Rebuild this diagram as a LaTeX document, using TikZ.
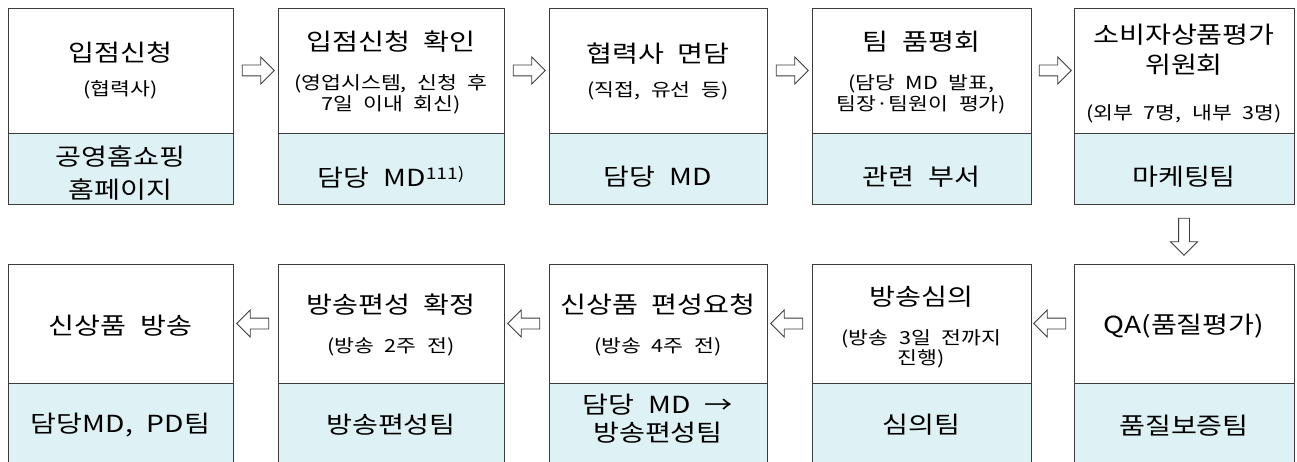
\documentclass[tikz,border=0pt]{standalone}
\usepackage{fontspec}
\setmainfont{Noto Sans CJK KR}[WordSpace=2.2, FakeStretch=1.2]
\usetikzlibrary{shapes.arrows,calc}
\definecolor{cellfill}{HTML}{DEF1F4}
\definecolor{edge}{HTML}{3C3C3C}
\begin{document}
\begin{tikzpicture}[x=1pt,y=-1pt,
  part/.style={draw=edge, line width=0.9pt, inner sep=0pt},
  toppart/.style={part, fill=white},
  botpart/.style={part, fill=cellfill},
  ttl/.style={font=\fontsize{23.5}{28}\selectfont, inner sep=0pt},
  sub/.style={font=\fontsize{18}{21}\selectfont, inner sep=0pt},
  barrow/.style={single arrow, draw=edge, fill=white, line width=0.9pt,
    minimum height=32pt, single arrow head extend=8pt, inner sep=5pt}]
\path[use as bounding box] (0,0) rectangle (1297,462);
\clip (0,0) rectangle (1297,462);
% ---- top row ----
\node[toppart, minimum width=225pt, minimum height=125pt] (t1) at (120.5,70.5) {};
\node[toppart, minimum width=226pt, minimum height=125pt] (t2) at (391,70.5) {};
\node[toppart, minimum width=218pt, minimum height=125pt] (t3) at (658,70.5) {};
\node[toppart, minimum width=219pt, minimum height=125pt] (t4) at (921.5,70.5) {};
\node[toppart, minimum width=220pt, minimum height=125pt] (t5) at (1184,70.5) {};
\node[botpart, minimum width=225pt, minimum height=71pt] (b1) at (120.5,168.5) {};
\node[botpart, minimum width=226pt, minimum height=71pt] (b2) at (391,168.5) {};
\node[botpart, minimum width=218pt, minimum height=71pt] (b3) at (658,168.5) {};
\node[botpart, minimum width=219pt, minimum height=71pt] (b4) at (921.5,168.5) {};
\node[botpart, minimum width=220pt, minimum height=71pt] (b5) at (1184,168.5) {};
% ---- bottom row ----
\node[toppart, minimum width=225pt, minimum height=119pt] (t6) at (120.5,323.5) {};
\node[toppart, minimum width=226pt, minimum height=119pt] (t7) at (391,323.5) {};
\node[toppart, minimum width=218pt, minimum height=119pt] (t8) at (658,323.5) {};
\node[toppart, minimum width=219pt, minimum height=119pt] (t9) at (921.5,323.5) {};
\node[toppart, minimum width=220pt, minimum height=119pt] (t10) at (1184,323.5) {};
\node[botpart, minimum width=225pt, minimum height=87pt] (b6) at (120.5,426.5) {};
\node[botpart, minimum width=226pt, minimum height=87pt] (b7) at (391,426.5) {};
\node[botpart, minimum width=218pt, minimum height=87pt] (b8) at (658,426.5) {};
\node[botpart, minimum width=219pt, minimum height=87pt] (b9) at (921.5,426.5) {};
\node[botpart, minimum width=220pt, minimum height=87pt] (b10) at (1184,426.5) {};
% ---- texts: box 1 ----
\node[ttl] (x1a) at (120.5,53) {입점신청};
\node[sub] (x1b) at (120.5,90) {(협력사)};
\node[ttl] (y1a) at (120.5,157) {공영홈쇼핑};
\node[ttl] (y1b) at (120.5,190) {홈페이지};
% box 2
\node[ttl] (x2a) at (391,42) {입점신청 확인};
\node[sub] (x2b) at (391,84) {(영업시스템, 신청 후};
\node[sub] (x2c) at (391,105) {7일 이내 회신)};
\node[ttl] (y2a) at (391,177) {담당 MD\raisebox{7pt}{\fontsize{16}{19}\selectfont 111)}};
% box 3
\node[ttl] (x3a) at (658,54) {협력사 면담};
\node[sub] (x3b) at (658,91) {(직접, 유선 등)};
\node[ttl] (y3a) at (658,177) {담당 MD};
% box 4
\node[ttl] (x4a) at (921.5,42) {팀 품평회};
\node[sub] (x4b) at (921.5,84) {(담당 MD 발표,};
\node[sub] (x4c) at (921.5,105) {팀장·팀원이 평가)};
\node[ttl] (y4a) at (921.5,177) {관련 부서};
% box 5
\node[ttl] (x5a) at (1184,35) {소비자상품평가};
\node[ttl] (x5b) at (1184,65) {위원회};
\node[sub] (x5c) at (1184,114) {(외부 7명, 내부 3명)};
\node[ttl] (y5a) at (1184,177) {마케팅팀};
% box 6
\node[ttl] (x6a) at (120.5,326) {신상품 방송};
\node[ttl] (y6a) at (120.5,425) {담당MD, PD팀};
% box 7
\node[ttl] (x7a) at (391,305) {방송편성 확정};
\node[sub] (x7b) at (391,347) {(방송 2주 전)};
\node[ttl] (y7a) at (391,425) {방송편성팀};
% box 8
\node[ttl] (x8a) at (658,305) {신상품 편성요청};
\node[sub] (x8b) at (658,347) {(방송 4주 전)};
\node[ttl] (y8a) at (658,405) {담당 MD →};
\node[ttl] (y8b) at (658,433) {방송편성팀};
% box 9
\node[ttl] (x9a) at (921.5,297) {방송심의};
\node[sub] (x9b) at (921.5,339) {(방송 3일 전까지};
\node[sub] (x9c) at (921.5,359) {진행)};
\node[ttl] (y9a) at (921.5,425) {심의팀};
% box 10
\node[ttl] (x10a) at (1184,326) {QA(품질평가)};
\node[ttl] (y10a) at (1184,426) {품질보증팀};
% ---- block arrows ----
\node[barrow] (a12) at ($(t1.east)!0.5!(t2.west)$) {};
\node[barrow] (a23) at ($(t2.east)!0.5!(t3.west)$) {};
\node[barrow] (a34) at ($(t3.east)!0.5!(t4.west)$) {};
\node[barrow] (a45) at ($(t4.east)!0.5!(t5.west)$) {};
\node[barrow, minimum height=37pt, shape border rotate=270] (a510) at ($(b5.south)!0.5!(t10.north)$) {};
\node[barrow, shape border rotate=180] (a109) at ($(t10.west)!0.5!(t9.east)$) {};
\node[barrow, shape border rotate=180] (a98) at ($(t9.west)!0.5!(t8.east)$) {};
\node[barrow, shape border rotate=180] (a87) at ($(t8.west)!0.5!(t7.east)$) {};
\node[barrow, shape border rotate=180] (a76) at ($(t7.west)!0.5!(t6.east)$) {};
\end{tikzpicture}
\end{document}
